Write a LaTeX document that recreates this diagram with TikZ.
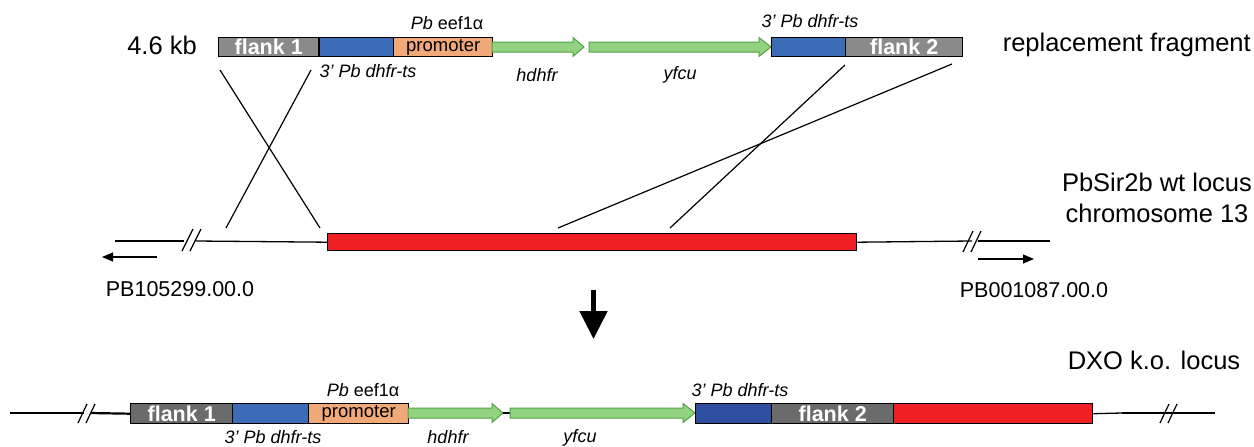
\documentclass[tikz,border=0pt]{standalone}
\usepackage{fontspec}
\setmainfont{Liberation Sans}
\usetikzlibrary{arrows.meta}
\definecolor{flankgray}{HTML}{8A8A8A}
\definecolor{flankdark}{HTML}{6B6B6B}
\definecolor{dblue}{HTML}{3B6CB5}
\definecolor{navy}{HTML}{2F4E9E}
\definecolor{promo}{HTML}{F2A97A}
\definecolor{gfill}{HTML}{93D283}
\definecolor{gline}{HTML}{4EA43E}
\definecolor{redbox}{HTML}{EE2024}
\tikzset{
  seg/.style={draw=black, line width=1.4pt, inner sep=0pt, anchor=north west, minimum height=19pt},
  segb/.style={seg, minimum height=20pt},
  flanktxt/.style={text=white, font=\bfseries\fontsize{21.5}{21}\selectfont},
  promotxt/.style={font=\fontsize{18.5}{18}\selectfont},
  big/.style={font=\fontsize{25.5}{31}\selectfont, inner sep=0pt},
  mid/.style={font=\fontsize{21.5}{24}\selectfont, inner sep=0pt},
  small/.style={font=\fontsize{18}{19}\selectfont, inner sep=0pt},
  smallit/.style={font=\itshape\fontsize{18}{19}\selectfont, inner sep=0pt},
  cross/.style={line width=1.2pt},
  gene/.style={draw=gline, fill=gfill, line width=1pt},
  thickline/.style={line width=2.2pt},
  thinline/.style={line width=1.3pt},
  brk/.style={line width=1.2pt},
  dir/.style={line width=1.2pt, -{Triangle[length=11pt,width=9pt]}},
}
\newcommand\garrow[4]{%
  \draw[gene] (#1,#4-5) -- (#3,#4-5) -- (#3,#4-9.5) -- (#2,#4) -- (#3,#4+9.5) -- (#3,#4+5) -- (#1,#4+5) -- cycle;}
\begin{document}
\begin{tikzpicture}[x=1pt,y=-1pt]
\useasboundingbox (0,0) rectangle (1254,447);

% ---------- top: replacement fragment ----------
\node[big] (kb) at (162,45) {4.6 kb};
\node[big, anchor=east] (repl) at (1251,45) {replacement fragment};
\node[seg, fill=flankgray, minimum width=100pt, flanktxt] (tf1) at (218,37) {flank 1};
\node[seg, fill=dblue, minimum width=74pt] (tb1) at (319,37) {};
\node[seg, fill=promo, minimum width=99pt, promotxt] (tpr) at (393,37) {promoter};
\garrow{492}{584}{573}{47}
\garrow{589}{771}{759}{47}
\node[seg, fill=dblue, minimum width=74pt] (tb2) at (771,37) {};
\node[seg, fill=flankgray, minimum width=117pt, flanktxt] (tf2) at (845,37) {flank 2};
\node[small] (tpb) at (447,23) {\textit{Pb} eef1α};
\node[smallit] (tdh1) at (368,71) {3’ Pb dhfr-ts};
\node[smallit] (thd) at (537,75) {hdhfr};
\node[smallit] (tyf) at (680,75) {yfcu};
\node[smallit] (tdh2) at (810,21) {3’ Pb dhfr-ts};

% ---------- middle: wt locus ----------
\node[big, align=center] (wt) at (1157,198) {PbSir2b wt locus\\chromosome 13};
\coordinate (mL) at (115,241);
\coordinate (mL1) at (184,241);
\coordinate (mL2) at (196,241);
\node[draw=black, line width=1.4pt, fill=redbox, inner sep=0pt, anchor=north west,
      minimum width=529pt, minimum height=17pt] (red) at (327,233) {};
\coordinate (mR1) at (972,241);
\coordinate (mR2) at (978,241);
\coordinate (mR) at (1050,241);
\draw[thickline] (mL) -- (mL1);
\draw[brk] (182,251) -- (193,229) (190,251) -- (201,229);
\draw[thinline] (mL2) -- (red.west);
\draw[thinline] (red.east) -- (mR1);
\draw[brk] (963,252) -- (973,231) (971,252) -- (981,231);
\draw[thickline] (mR2) -- (mR);
\coordinate (aL1) at (157,257); \coordinate (aL2) at (102,257);
\coordinate (aR1) at (978,259); \coordinate (aR2) at (1034,259);
\draw[dir] (aL1) -- (aL2);
\draw[dir] (aR1) -- (aR2);
\node[mid] (pbl) at (180,289) {PB105299.00.0};
\node[mid] (pbr) at (1034,290) {PB001087.00.0};

% ---------- crossovers ----------
\coordinate (c1a) at (220,70); \coordinate (c1b) at (320,228);
\coordinate (c2a) at (311,70); \coordinate (c2b) at (226,228);
\coordinate (c3a) at (845,65); \coordinate (c3b) at (670,228);
\coordinate (c4a) at (952,64); \coordinate (c4b) at (558,228);
\draw[cross] (c1a) -- (c1b);
\draw[cross] (c2a) -- (c2b);
\draw[cross] (c3a) -- (c3b);
\draw[cross] (c4a) -- (c4b);

% ---------- down arrow ----------
\coordinate (dA) at (593.5,290); \coordinate (dB) at (593.5,339);
\draw[line width=5pt, -{Triangle[length=28pt,width=27pt]}] (dA) -- (dB);

% ---------- bottom: k.o. locus ----------
\node[big] (dxo) at (1154,360) {DXO k.o. locus};
\coordinate (bL) at (10,413); \coordinate (bL1) at (84,413); \coordinate (bL2) at (90,413);
\draw[thickline] (bL) -- (bL1);
\draw[brk] (78,423) -- (87,404) (86,423) -- (95,404);
\node[segb, fill=flankdark, minimum width=102pt, flanktxt] (bf1) at (130,403) {flank 1};
\draw[thickline] (bL2) -- (bf1.west);
\node[segb, fill=dblue, minimum width=76pt] (bb1) at (232,403) {};
\node[segb, fill=promo, minimum width=100pt, promotxt] (bpr) at (308,403) {promoter};
\garrow{408}{503}{492}{413}
\coordinate (lk1) at (503,413); \coordinate (lk2) at (510,413);
\draw[thinline] (lk1) -- (lk2);
\garrow{510}{695}{683}{413}
\node[segb, fill=navy, minimum width=76pt] (bb2) at (695,403) {};
\node[segb, fill=flankdark, minimum width=122pt, flanktxt] (bf2) at (771,403) {flank 2};
\node[segb, fill=redbox, minimum width=199pt] (bred) at (893,403) {};
\coordinate (bR1) at (1122,413); \coordinate (bR2) at (1215,413);
\draw[thinline] (bred.east) -- (bR1);
\draw[thickline] (bR1) -- (bR2);
\draw[brk] (1160,423) -- (1169,404) (1168,423) -- (1177,404);
\node[small] (bpb) at (363,390) {\textit{Pb} eef1α};
\node[smallit] (bdh1) at (273,437) {3’ Pb dhfr-ts};
\node[smallit] (bhd) at (448,437) {hdhfr};
\node[smallit] (byf) at (580,438) {yfcu};
\node[smallit] (bdh2) at (740,390) {3’ Pb dhfr-ts};
\end{tikzpicture}
\end{document}
